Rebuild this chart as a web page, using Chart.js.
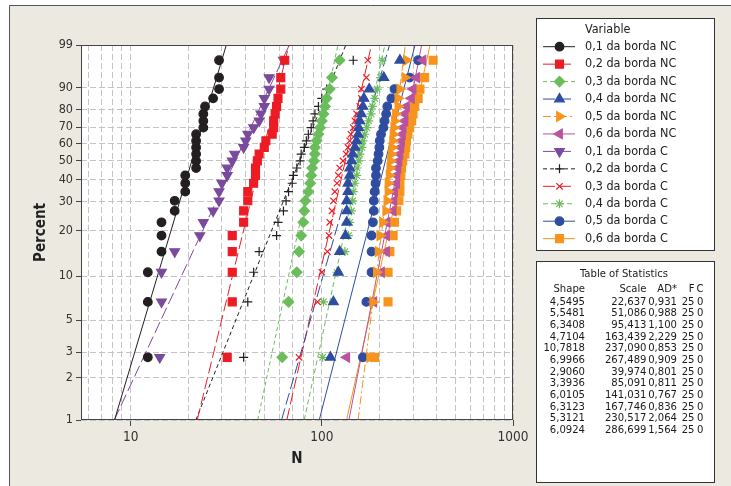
<!DOCTYPE html>
<html>
<head>
<meta charset="utf-8">
<script src="https://cdn.jsdelivr.net/npm/chart.js@4.4.0/dist/chart.umd.min.js"></script>
<style>
  html, body { margin: 0; padding: 0; background: #fff; }
  #wrap { width: 731px; height: 486px; }
</style>
</head>
<body>
<div id="wrap"><canvas id="weibull" width="731" height="486"></canvas></div>
<script>
const seriesNames = [
  "0,1 da borda NC", "0,2 da borda NC", "0,3 da borda NC", "0,4 da borda NC",
  "0,5 da borda NC", "0,6 da borda NC", "0,1 da borda C", "0,2 da borda C",
  "0,3 da borda C", "0,4 da borda C", "0,5 da borda C", "0,6 da borda C"
];

// median ranks (%) of the 25 observations
const percents = [2.76, 6.69, 10.63, 14.57, 18.50, 22.44, 26.38, 30.31, 34.25, 38.19, 42.13, 46.06, 50.00,
  53.94, 57.87, 61.81, 65.75, 69.69, 73.62, 77.56, 81.50, 85.43, 89.37, 93.31, 97.24];

const yTickLabels = [1, 2, 3, 5, 10, 20, 30, 40, 50, 60, 70, 80, 90, 99];
const xTickValues = [6, 7, 8, 9, 10, 20, 30, 40, 50, 60, 70, 80, 90, 100, 200, 300, 400, 500, 600, 700, 800, 900, 1000];
const xTickLabels = [10, 100, 1000];

const nc01 = [12.3, 12.3, 12.3, 14.5, 14.5, 14.5, 17, 17, 19.3, 19.3, 19.3, 22, 22, 22, 22, 22, 22, 24, 24, 24, 24.5, 27, 29, 29, 29];
const nc02 = [32, 34, 34, 34, 34, 39, 39, 41, 41, 44, 45, 45, 46, 47, 50, 51, 55, 56, 56, 57, 58, 59, 61, 61, 64];
const nc03 = [62, 67, 74, 76, 78, 80, 81, 82, 85, 87, 88, 89, 91, 92, 92, 94, 96, 98, 100, 102, 104, 106, 110, 113, 124];
const nc04 = [111, 115, 122, 124, 133, 135, 135, 135, 137, 137, 140, 140, 143, 145, 149, 152, 155, 156, 158, 161, 164, 166, 177, 211, 256];
const nc05 = [178, 185, 193, 197, 201, 208, 216, 219, 222, 222, 225, 227, 229, 231, 233, 235, 236, 238, 240, 243, 250, 250, 256, 272, 277];
const nc06 = [135, 187, 205, 218, 218, 219, 236, 238, 240, 246, 247, 250, 253, 256, 259, 261, 264, 266, 272, 272, 277, 294, 300, 313, 338];
const c01 = [14.2, 14.5, 14.5, 17, 23, 24, 27, 29, 29, 30, 32, 32, 34, 35, 39, 40, 41, 44, 47, 48, 50, 50, 53, 53, 63];
const c02 = [39, 41, 44, 47, 58, 59, 63, 65, 67, 70, 71, 74, 77, 78, 81, 83, 85, 88, 90, 92, 96, 100, 106, 113, 146];
const c03 = [76, 95, 100, 107, 109, 110, 113, 115, 117, 120, 122, 124, 129, 134, 137, 140, 142, 146, 149, 152, 158, 161, 161, 171, 174];
const c04 = [101, 102, 120, 132, 138, 140, 143, 145, 146, 149, 152, 153, 156, 158, 162, 164, 168, 172, 176, 181, 184, 189, 195, 203, 207];
const c05 = [164, 171, 182, 182, 182, 185, 187, 187, 189, 191, 192, 192, 196, 198, 200, 201, 204, 210, 213, 217, 220, 231, 240, 288, 319];
const c06 = [189, 222, 222, 227, 236, 240, 246, 253, 256, 256, 259, 261, 265, 272, 275, 277, 282, 288, 295, 300, 306, 319, 326, 345, 382];
const seriesValues = [nc01, nc02, nc03, nc04, nc05, nc06, c01, c02, c03, c04, c05, c06];

// Table of Statistics
const shapes = [4.5495, 5.5481, 6.3408, 4.7104, 10.7818, 6.9966, 2.9060, 3.3936, 6.0105, 6.3123, 5.3121, 6.0924];
const scales = [22.637, 51.086, 95.413, 163.439, 237.090, 267.489, 39.974, 85.091, 141.031, 167.746, 230.517, 286.699];
const adStats = [0.931, 0.988, 1.100, 2.229, 0.853, 0.909, 0.801, 0.811, 0.767, 0.836, 2.064, 1.564];
const failed = [25, 25, 25, 25, 25, 25, 25, 25, 25, 25, 25, 25];
const censored = [0, 0, 0, 0, 0, 0, 0, 0, 0, 0, 0, 0];

// styles
const colors = ["#231f20", "#ec1c24", "#6abd5b", "#2f4da0", "#f7941d", "#b9529f",
  "#7b4a9c", "#231f20", "#ec1c24", "#6abd5b", "#2f4da0", "#f7941d"];
const markers = ["circle", "rect", "rectRot", "triangle", "triangle", "triangle",
  "triangle", "cross", "crossRot", "star", "circle", "rect"];
const rotations = [0, 0, 0, 0, 90, -90, 180, 0, 0, 0, 0, 0];
const radii = [4.3, 5.6, 5.2, 5.6, 5.6, 5.6, 5.6, 4.5, 4.5, 4.5, 4.3, 5.6];
const dashes = [[], [12, 4], [4, 3], [12, 4], [8, 3, 2, 3], [], [12, 4], [4, 3], [12, 4], [5, 3], [], []];

const font = '"DejaVu Sans Condensed", "DejaVu Sans", sans-serif';
const beige = "#ece9e1";

// weibull probability transform
const wb = p => Math.log(-Math.log(1 - p / 100));

const datasets = [];
seriesValues.forEach((vals, i) => {
  datasets.push({
    label: seriesNames[i],
    data: vals.map((v, k) => ({ x: v, y: wb(percents[k]) })),
    showLine: false,
    pointStyle: markers[i],
    rotation: rotations[i],
    pointRadius: radii[i],
    pointHoverRadius: radii[i],
    pointBackgroundColor: colors[i],
    pointBorderColor: colors[i],
    pointBorderWidth: 1.2
  });
});
seriesValues.forEach((vals, i) => {
  const lo = scales[i] * Math.pow(-Math.log(1 - 0.01), 1 / shapes[i]);
  const hi = scales[i] * Math.pow(-Math.log(0.01), 1 / shapes[i]);
  datasets.push({
    label: seriesNames[i] + " fit",
    data: [{ x: lo, y: wb(1) }, { x: hi, y: wb(99) }],
    showLine: true,
    borderColor: colors[i],
    borderWidth: 1,
    borderDash: dashes[i],
    pointRadius: 0,
    fill: false
  });
});

const fmt = (v, d) => v.toFixed(d).replace(".", ",");

const framePlugin = {
  id: "frame",
  beforeDraw(chart) {
    const ctx = chart.ctx, a = chart.chartArea;
    ctx.save();
    ctx.fillStyle = "#fff";
    ctx.fillRect(0, 0, chart.width, chart.height);
    ctx.fillStyle = beige;
    ctx.fillRect(9.5, 5.5, chart.width, chart.height);
    ctx.strokeStyle = "#555";
    ctx.lineWidth = 1;
    ctx.beginPath();
    ctx.moveTo(9.5, chart.height);
    ctx.lineTo(9.5, 5.5);
    ctx.lineTo(chart.width, 5.5);
    ctx.stroke();
    ctx.fillStyle = "#fff";
    ctx.fillRect(a.left, a.top, a.width, a.height);
    ctx.restore();
  },
  afterDraw(chart) {
    const ctx = chart.ctx, a = chart.chartArea;
    ctx.save();
    ctx.strokeStyle = "#444";
    ctx.lineWidth = 1;
    ctx.strokeRect(a.left + 0.5, a.top + 0.5, a.width - 1, a.height - 1);

    // legend box
    ctx.fillStyle = "#fff";
    ctx.fillRect(536.5, 18.5, 178, 232);
    ctx.strokeStyle = "#333";
    ctx.strokeRect(536.5, 18.5, 178, 232);
    ctx.fillStyle = "#222";
    ctx.font = "12.5px " + font;
    ctx.textBaseline = "middle";
    ctx.textAlign = "left";
    ctx.fillText("Variable", 585, 29.5);
    seriesNames.forEach((name, i) => {
      const y = 46.7 + i * 17.45;
      ctx.save();
      ctx.strokeStyle = colors[i];
      ctx.lineWidth = 1;
      ctx.setLineDash(dashes[i]);
      ctx.beginPath();
      ctx.moveTo(543, y);
      ctx.lineTo(575, y);
      ctx.stroke();
      ctx.setLineDash([]);
      ctx.fillStyle = colors[i];
      ctx.strokeStyle = colors[i];
      ctx.lineWidth = 1.2;
      Chart.helpers.drawPoint(ctx, {
        pointStyle: markers[i], radius: radii[i], rotation: rotations[i], borderWidth: 1.2
      }, 559.5, y);
      ctx.restore();
      ctx.fillStyle = "#222";
      ctx.fillText(name, 585, y);
    });

    // table of statistics
    ctx.fillStyle = "#fff";
    ctx.fillRect(536.5, 261.5, 178, 221);
    ctx.strokeStyle = "#333";
    ctx.strokeRect(536.5, 261.5, 178, 221);
    ctx.fillStyle = "#1a1a1a";
    ctx.font = "11.2px " + font;
    ctx.textAlign = "center";
    ctx.fillText("Table of Statistics", 624, 274.5);
    const cols = [585, 646.5, 677, 694.5, 703.5];
    const head = ["Shape", "Scale", "AD*", "F", "C"];
    ctx.textAlign = "right";
    head.forEach((h, j) => ctx.fillText(h, cols[j], 289.5));
    shapes.forEach((s, i) => {
      const y = 301.8 + i * 11.67;
      const row = [fmt(s, 4), fmt(scales[i], 3), fmt(adStats[i], 3), String(failed[i]), String(censored[i])];
      row.forEach((t, j) => ctx.fillText(t, cols[j], y));
    });
    ctx.restore();
  }
};

new Chart(document.getElementById("weibull"), {
  type: "scatter",
  data: { datasets: datasets },
  options: {
    responsive: false,
    animation: false,
    events: [],
    layout: { padding: { left: 0, top: 45, right: 218, bottom: 0 } },
    plugins: {
      legend: { display: false },
      tooltip: { enabled: false }
    },
    scales: {
      x: {
        type: "logarithmic",
        position: "bottom",
        min: 5.5,
        max: 1000,
        afterBuildTicks: s => { s.ticks = xTickValues.map(v => ({ value: v, major: xTickLabels.includes(v) })); },
        afterFit: s => { s.height = 66; },
        ticks: {
          autoSkip: false,
          maxRotation: 0,
          padding: 3,
          color: "#333",
          font: { family: font, size: 13.5 },
          callback: v => (xTickLabels.includes(v) ? String(v) : "")
        },
        grid: {
          color: "#c4c4c4",
          lineWidth: 1,
          drawTicks: true,
          tickLength: 6,
          tickColor: c => (c.tick && xTickLabels.includes(c.tick.value) ? "#444" : "rgba(0,0,0,0)")
        },
        border: { display: false, dash: [6, 3] },
        title: {
          display: true,
          text: "N",
          color: "#222",
          font: { family: font, size: 15, weight: "bold" },
          padding: { top: 0, bottom: 18 }
        }
      },
      y: {
        type: "linear",
        position: "left",
        min: wb(1),
        max: wb(99),
        afterBuildTicks: s => { s.ticks = yTickLabels.map(p => ({ value: wb(p) })); },
        afterFit: s => { s.width = 81; },
        ticks: {
          autoSkip: false,
          padding: 3,
          color: "#333",
          font: { family: font, size: 12.5 },
          callback: (v, i) => String(yTickLabels[i])
        },
        grid: {
          color: "#c4c4c4",
          lineWidth: 1,
          drawTicks: true,
          tickLength: 5,
          tickColor: "#444"
        },
        border: { display: false, dash: [6, 3] },
        title: {
          display: true,
          text: "Percent",
          color: "#222",
          font: { family: font, size: 15, weight: "bold" },
          padding: { top: 32, bottom: 0 }
        }
      }
    }
  },
  plugins: [framePlugin]
});
</script>
</body>
</html>
